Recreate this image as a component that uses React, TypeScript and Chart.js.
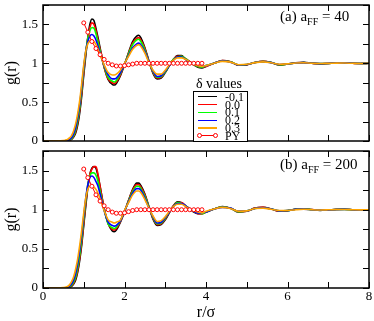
import React, { useEffect, useRef } from "react";
import { Chart, registerables } from "chart.js";

Chart.register(...registerables);

// r/sigma grid shared by all simulated g(r) curves
const R = [
  0, 0.5, 0.6, 0.65, 0.7, 0.75, 0.8, 0.85, 0.9, 0.95,
  1.0, 1.05, 1.1, 1.15, 1.2, 1.25, 1.3, 1.35, 1.4,
  1.5, 1.6, 1.7, 1.75, 1.8, 1.9,
  2.0, 2.1, 2.2, 2.3, 2.35, 2.4, 2.5, 2.6, 2.7, 2.8, 2.9,
  3.0, 3.1, 3.2, 3.3, 3.4, 3.5, 3.6, 3.7, 3.8, 3.9,
  4.0, 4.2, 4.4, 4.6, 4.8, 5.0, 5.2, 5.4, 5.6, 5.8, 6.0, 6.2, 6.4, 6.6, 6.8, 7.0, 7.2, 7.4, 7.6, 7.8, 8.0,
];

const DELTAS = ["-0.1", "0.0", "0.1", "0.2", "0.3"];
const COLORS = ["#000000", "#ff0000", "#00ff00", "#0000ff", "#ffa500"];

// (a) a_FF = 40
const A40_M01 = [0, 0, 0.005, 0.01, 0.02, 0.05, 0.1, 0.2, 0.36, 0.58, 0.85, 1.1, 1.33, 1.5, 1.57, 1.55, 1.45, 1.33, 1.2, 0.95, 0.79, 0.73, 0.72, 0.74, 0.84, 0.98, 1.14, 1.28, 1.35, 1.36, 1.33, 1.2, 1.03, 0.87, 0.8, 0.81, 0.88, 0.97, 1.05, 1.1, 1.1, 1.05, 1.02, 0.98, 0.95, 0.94, 0.96, 1.0, 1.035, 1.02, 0.975, 0.98, 1.01, 1.025, 1.01, 0.978, 0.99, 1.005, 1.012, 1.0, 0.993, 0.998, 1.003, 1.006, 1.0, 0.997, 1.0];
const A40_00 = [0, 0, 0.005, 0.01, 0.025, 0.06, 0.12, 0.23, 0.4, 0.62, 0.88, 1.13, 1.33, 1.46, 1.52, 1.5, 1.42, 1.3, 1.18, 0.95, 0.8, 0.75, 0.74, 0.76, 0.85, 0.99, 1.13, 1.26, 1.32, 1.33, 1.3, 1.19, 1.02, 0.88, 0.81, 0.82, 0.89, 0.97, 1.05, 1.09, 1.09, 1.06, 1.02, 0.98, 0.96, 0.95, 0.96, 1.0, 1.035, 1.02, 0.975, 0.982, 1.01, 1.025, 1.01, 0.98, 0.99, 1.005, 1.01, 1.0, 0.994, 0.998, 1.003, 1.005, 1.0, 0.997, 1.0];
const A40_01 = [0, 0, 0.01, 0.015, 0.03, 0.07, 0.14, 0.26, 0.43, 0.66, 0.92, 1.15, 1.32, 1.42, 1.46, 1.45, 1.38, 1.27, 1.16, 0.96, 0.82, 0.77, 0.76, 0.78, 0.87, 0.99, 1.12, 1.24, 1.3, 1.31, 1.28, 1.17, 1.02, 0.89, 0.82, 0.83, 0.89, 0.97, 1.05, 1.08, 1.09, 1.06, 1.02, 0.98, 0.96, 0.95, 0.97, 1.0, 1.03, 1.02, 0.978, 0.985, 1.01, 1.022, 1.01, 0.982, 0.99, 1.004, 1.01, 1.0, 0.995, 0.998, 1.002, 1.004, 1.0, 0.998, 1.0];
const A40_02 = [0, 0, 0.01, 0.02, 0.04, 0.09, 0.17, 0.3, 0.47, 0.7, 0.95, 1.16, 1.28, 1.35, 1.37, 1.35, 1.3, 1.22, 1.13, 0.97, 0.85, 0.8, 0.8, 0.81, 0.88, 0.99, 1.1, 1.2, 1.25, 1.26, 1.24, 1.15, 1.02, 0.9, 0.83, 0.84, 0.9, 0.97, 1.04, 1.08, 1.08, 1.05, 1.02, 0.99, 0.97, 0.96, 0.97, 1.0, 1.03, 1.015, 0.98, 0.985, 1.01, 1.02, 1.008, 0.985, 0.992, 1.003, 1.008, 1.0, 0.996, 0.999, 1.002, 1.004, 1.0, 0.998, 1.0];
const A40_03 = [0, 0.005, 0.02, 0.04, 0.07, 0.13, 0.22, 0.35, 0.52, 0.74, 0.98, 1.16, 1.25, 1.29, 1.3, 1.28, 1.24, 1.18, 1.11, 0.98, 0.88, 0.85, 0.85, 0.86, 0.91, 1.0, 1.09, 1.18, 1.23, 1.24, 1.22, 1.13, 1.01, 0.91, 0.86, 0.86, 0.91, 0.98, 1.04, 1.07, 1.07, 1.05, 1.02, 0.99, 0.97, 0.96, 0.97, 1.0, 1.025, 1.015, 0.982, 0.988, 1.008, 1.018, 1.006, 0.988, 0.993, 1.003, 1.006, 1.0, 0.997, 0.999, 1.002, 1.003, 1.0, 0.998, 1.0];

// (b) a_FF = 200
const A200_M01 = [0, 0, 0.003, 0.01, 0.02, 0.05, 0.1, 0.2, 0.35, 0.55, 0.8, 1.05, 1.28, 1.45, 1.53, 1.55, 1.53, 1.43, 1.3, 1.02, 0.82, 0.73, 0.72, 0.74, 0.84, 0.97, 1.12, 1.26, 1.34, 1.34, 1.31, 1.2, 1.04, 0.88, 0.8, 0.81, 0.87, 0.96, 1.05, 1.1, 1.09, 1.05, 1.01, 0.97, 0.95, 0.95, 0.97, 1.01, 1.04, 1.02, 0.97, 0.98, 1.02, 1.03, 1.01, 0.98, 0.985, 1.005, 1.012, 1.002, 0.992, 0.997, 1.004, 1.006, 1.0, 0.996, 1.0];
const A200_00 = [0, 0, 0.005, 0.012, 0.03, 0.06, 0.12, 0.22, 0.38, 0.58, 0.83, 1.08, 1.3, 1.45, 1.52, 1.55, 1.55, 1.45, 1.3, 1.02, 0.82, 0.75, 0.74, 0.76, 0.85, 0.98, 1.12, 1.25, 1.32, 1.32, 1.29, 1.19, 1.03, 0.89, 0.81, 0.82, 0.88, 0.97, 1.05, 1.09, 1.09, 1.05, 1.01, 0.98, 0.95, 0.95, 0.97, 1.01, 1.035, 1.02, 0.975, 0.98, 1.02, 1.03, 1.01, 0.98, 0.99, 1.005, 1.01, 1.002, 0.994, 0.998, 1.003, 1.005, 1.0, 0.997, 1.0];
const A200_01 = [0, 0, 0.008, 0.018, 0.035, 0.075, 0.14, 0.26, 0.42, 0.63, 0.88, 1.12, 1.32, 1.43, 1.47, 1.47, 1.44, 1.36, 1.24, 1.0, 0.82, 0.77, 0.76, 0.78, 0.86, 0.98, 1.11, 1.23, 1.3, 1.3, 1.27, 1.17, 1.03, 0.9, 0.82, 0.83, 0.89, 0.97, 1.04, 1.09, 1.08, 1.05, 1.01, 0.98, 0.96, 0.95, 0.97, 1.01, 1.035, 1.02, 0.975, 0.985, 1.015, 1.025, 1.01, 0.985, 0.99, 1.005, 1.01, 1.0, 0.995, 0.998, 1.003, 1.004, 1.0, 0.997, 1.0];
const A200_02 = [0, 0, 0.01, 0.025, 0.05, 0.1, 0.18, 0.31, 0.48, 0.68, 0.92, 1.15, 1.32, 1.41, 1.43, 1.41, 1.36, 1.3, 1.2, 0.99, 0.84, 0.8, 0.79, 0.8, 0.86, 0.98, 1.1, 1.21, 1.27, 1.27, 1.25, 1.15, 1.02, 0.91, 0.83, 0.84, 0.9, 0.97, 1.04, 1.08, 1.08, 1.05, 1.01, 0.98, 0.96, 0.96, 0.97, 1.01, 1.03, 1.02, 0.98, 0.985, 1.015, 1.025, 1.01, 0.985, 0.99, 1.005, 1.008, 1.0, 0.996, 0.998, 1.002, 1.004, 1.0, 0.998, 1.0];
const A200_03 = [0, 0.005, 0.02, 0.04, 0.08, 0.14, 0.24, 0.37, 0.54, 0.74, 0.96, 1.15, 1.26, 1.3, 1.3, 1.29, 1.26, 1.21, 1.14, 0.99, 0.87, 0.84, 0.83, 0.84, 0.87, 0.99, 1.09, 1.19, 1.24, 1.24, 1.22, 1.13, 1.02, 0.92, 0.85, 0.86, 0.91, 0.98, 1.04, 1.07, 1.07, 1.04, 1.01, 0.99, 0.97, 0.96, 0.98, 1.01, 1.03, 1.015, 0.98, 0.985, 1.015, 1.02, 1.005, 0.99, 0.99, 1.0, 1.006, 1.0, 0.997, 0.999, 1.002, 1.003, 1.0, 0.998, 1.0];

// Percus-Yevick reference
const R_PY = [1.0, 1.1, 1.2, 1.3, 1.4, 1.5, 1.6, 1.7, 1.8, 1.9, 2.0, 2.1, 2.2, 2.3, 2.4, 2.5, 2.6, 2.7, 2.8, 2.9, 3.0, 3.1, 3.2, 3.3, 3.4, 3.5, 3.6, 3.7, 3.8, 3.9];
const PY_40 = [1.52, 1.4, 1.28, 1.19, 1.11, 1.05, 1.0, 0.98, 0.965, 0.965, 0.97, 0.98, 0.99, 1.0, 1.0, 1.0, 1.0, 1.0, 1.0, 1.0, 1.0, 1.0, 1.0, 1.0, 1.0, 1.0, 1.0, 1.0, 1.0, 1.0];
const PY_200 = [1.52, 1.41, 1.3, 1.19, 1.11, 1.05, 1.0, 0.97, 0.955, 0.955, 0.96, 0.975, 0.99, 1.0, 1.0, 1.0, 1.0, 1.0, 1.0, 1.0, 1.0, 1.0, 1.0, 1.0, 1.0, 1.0, 1.0, 1.0, 1.0, 1.0];

const X_TICKS = [0, 1, 2, 3, 4, 5, 6, 7, 8];
const Y_TICKS = [0, 0.25, 0.5, 0.75, 1, 1.25, 1.5, 1.75];

const FONT = "'Liberation Serif', 'Times New Roman', serif";

const framePlugin = {
  id: "frameTicks",
  afterDatasetsDraw(chart: any) {
    const { ctx, chartArea: a, scales } = chart;
    const xs = scales.x;
    const ys = scales.y;
    const L = 6;
    ctx.save();
    ctx.strokeStyle = "#000";
    ctx.lineWidth = 1;
    ctx.beginPath();
    for (const v of X_TICKS) {
      const p = Math.round(xs.getPixelForValue(v)) + 0.5;
      ctx.moveTo(p, a.bottom);
      ctx.lineTo(p, a.bottom - L);
      ctx.moveTo(p, a.top);
      ctx.lineTo(p, a.top + L);
    }
    for (const v of Y_TICKS) {
      const p = Math.round(ys.getPixelForValue(v)) + 0.5;
      ctx.moveTo(a.left, p);
      ctx.lineTo(a.left + L, p);
      ctx.moveTo(a.right, p);
      ctx.lineTo(a.right - L, p);
    }
    ctx.stroke();
    ctx.lineWidth = 1.5;
    ctx.strokeRect(a.left, a.top, a.right - a.left, a.bottom - a.top);
    ctx.restore();
  },
};

function makeConfig(series: number[][], py: number[], bottom: boolean): any {
  const order = [5, 4, 3, 2, 1];
  const datasets: any[] = series.map((vals, i) => ({
    label: DELTAS[i],
    data: R.map((r, k) => ({ x: r, y: vals[k] })),
    borderColor: COLORS[i],
    borderWidth: 1.6,
    pointRadius: 0,
    fill: false,
    cubicInterpolationMode: "monotone",
    order: order[i],
  }));
  datasets.push({
    label: "PY",
    data: R_PY.map((r, k) => ({ x: r, y: py[k] })),
    borderColor: "#ff0000",
    borderWidth: 1,
    pointRadius: 2,
    pointBorderWidth: 1,
    pointBorderColor: "#ff0000",
    pointBackgroundColor: "#ffffff",
    fill: false,
    tension: 0,
    order: 0,
  });
  const xScale: any = {
    type: "linear",
    min: 0,
    max: 8,
    display: bottom,
    grid: { display: false, drawTicks: false },
    border: { display: false },
    ticks: {
      stepSize: 2,
      padding: 1,
      color: "#000",
      font: { family: FONT, size: 13 },
      maxRotation: 0,
    },
    title: {
      display: true,
      text: "r/σ",
      color: "#000",
      font: { family: FONT, size: 16, lineHeight: 1 },
      padding: { top: 0, bottom: 0 },
    },
  };
  if (bottom) {
    xScale.afterFit = (s: any) => {
      s.height = 33;
      s.paddingLeft = 0;
      s.paddingRight = 0;
    };
  }
  return {
    type: "line",
    data: { datasets },
    plugins: [framePlugin],
    options: {
      animation: false,
      responsive: false,
      events: [],
      layout: { padding: { top: 1, right: 4, bottom: bottom ? 0 : 1, left: 0 } },
      plugins: { legend: { display: false }, tooltip: { enabled: false } },
      scales: {
        x: xScale,
        y: {
          type: "linear",
          min: 0,
          max: 1.75,
          grid: { display: false, drawTicks: false },
          border: { display: false },
          ticks: {
            stepSize: 0.5,
            includeBounds: false,
            padding: 5,
            color: "#000",
            font: { family: FONT, size: 13 },
            callback: (v: any) => String(v),
          },
          title: {
            display: true,
            text: "g(r)",
            color: "#000",
            font: { family: FONT, size: 16, lineHeight: 1 },
            padding: { top: 4, bottom: 0 },
          },
          afterFit: (s: any) => {
            s.width = 43;
            s.paddingTop = 0;
            s.paddingBottom = 0;
          },
        },
      },
    },
  };
}

const abs = (extra: React.CSSProperties): React.CSSProperties => ({ position: "absolute", ...extra });

function PanelLabel({ top, letter, value }: { top: number; letter: string; value: string }) {
  return (
    <div style={abs({ left: 280, top, fontFamily: FONT, fontSize: 15, lineHeight: "15px", whiteSpace: "nowrap", color: "#000" })}>
      ({letter}) a
      <span style={{ fontSize: 10, position: "relative", top: 4 }}>FF</span> = {value}
    </div>
  );
}

function Legend() {
  const ys = [96.7, 104.55, 112.4, 120.25, 128.1, 135.95];
  return (
    <>
      <div style={abs({ left: 193, top: 91, width: 55, height: 51, border: "1px solid #000", boxSizing: "border-box", background: "#fff" })} />
      <div style={abs({ left: 196, top: 77, fontFamily: FONT, fontSize: 14, lineHeight: "14px", whiteSpace: "nowrap" })}>δ values</div>
      {DELTAS.map((d, i) => (
        <React.Fragment key={d}>
          <div style={abs({ left: 198, top: ys[i] - 0.75, width: 19, height: 1.5, background: COLORS[i] })} />
          <div style={abs({ left: 225, top: ys[i] - 6, fontFamily: FONT, fontSize: 12, lineHeight: "12px", whiteSpace: "nowrap" })}>{d}</div>
        </React.Fragment>
      ))}
      <div style={abs({ left: 198, top: ys[5] - 0.5, width: 19, height: 1, background: "#ff0000" })} />
      <div style={abs({ left: 197, top: ys[5] - 2.5, width: 5, height: 5, borderRadius: "50%", border: "1px solid #ff0000", background: "#fff", boxSizing: "border-box" })} />
      <div style={abs({ left: 213, top: ys[5] - 2.5, width: 5, height: 5, borderRadius: "50%", border: "1px solid #ff0000", background: "#fff", boxSizing: "border-box" })} />
      <div style={abs({ left: 225, top: ys[5] - 6, fontFamily: FONT, fontSize: 12, lineHeight: "12px", whiteSpace: "nowrap" })}>PY</div>
    </>
  );
}

export default function App() {
  const topRef = useRef<HTMLCanvasElement | null>(null);
  const botRef = useRef<HTMLCanvasElement | null>(null);

  useEffect(() => {
    const c1 = new Chart(topRef.current as HTMLCanvasElement, makeConfig([A40_M01, A40_00, A40_01, A40_02, A40_03], PY_40, false));
    const c2 = new Chart(botRef.current as HTMLCanvasElement, makeConfig([A200_M01, A200_00, A200_01, A200_02, A200_03], PY_200, true));
    return () => {
      c1.destroy();
      c2.destroy();
    };
  }, []);

  return (
    <div style={abs({ left: 0, top: 0, width: 374, height: 321, background: "#fff", overflow: "hidden" })}>
      <canvas ref={topRef} width={374} height={146} style={abs({ left: 0, top: 0, width: 374, height: 146 })} />
      <canvas ref={botRef} width={374} height={175} style={abs({ left: 0, top: 146, width: 374, height: 175 })} />
      <PanelLabel top={9} letter="a" value="40" />
      <PanelLabel top={157} letter="b" value="200" />
      <Legend />
    </div>
  );
}
